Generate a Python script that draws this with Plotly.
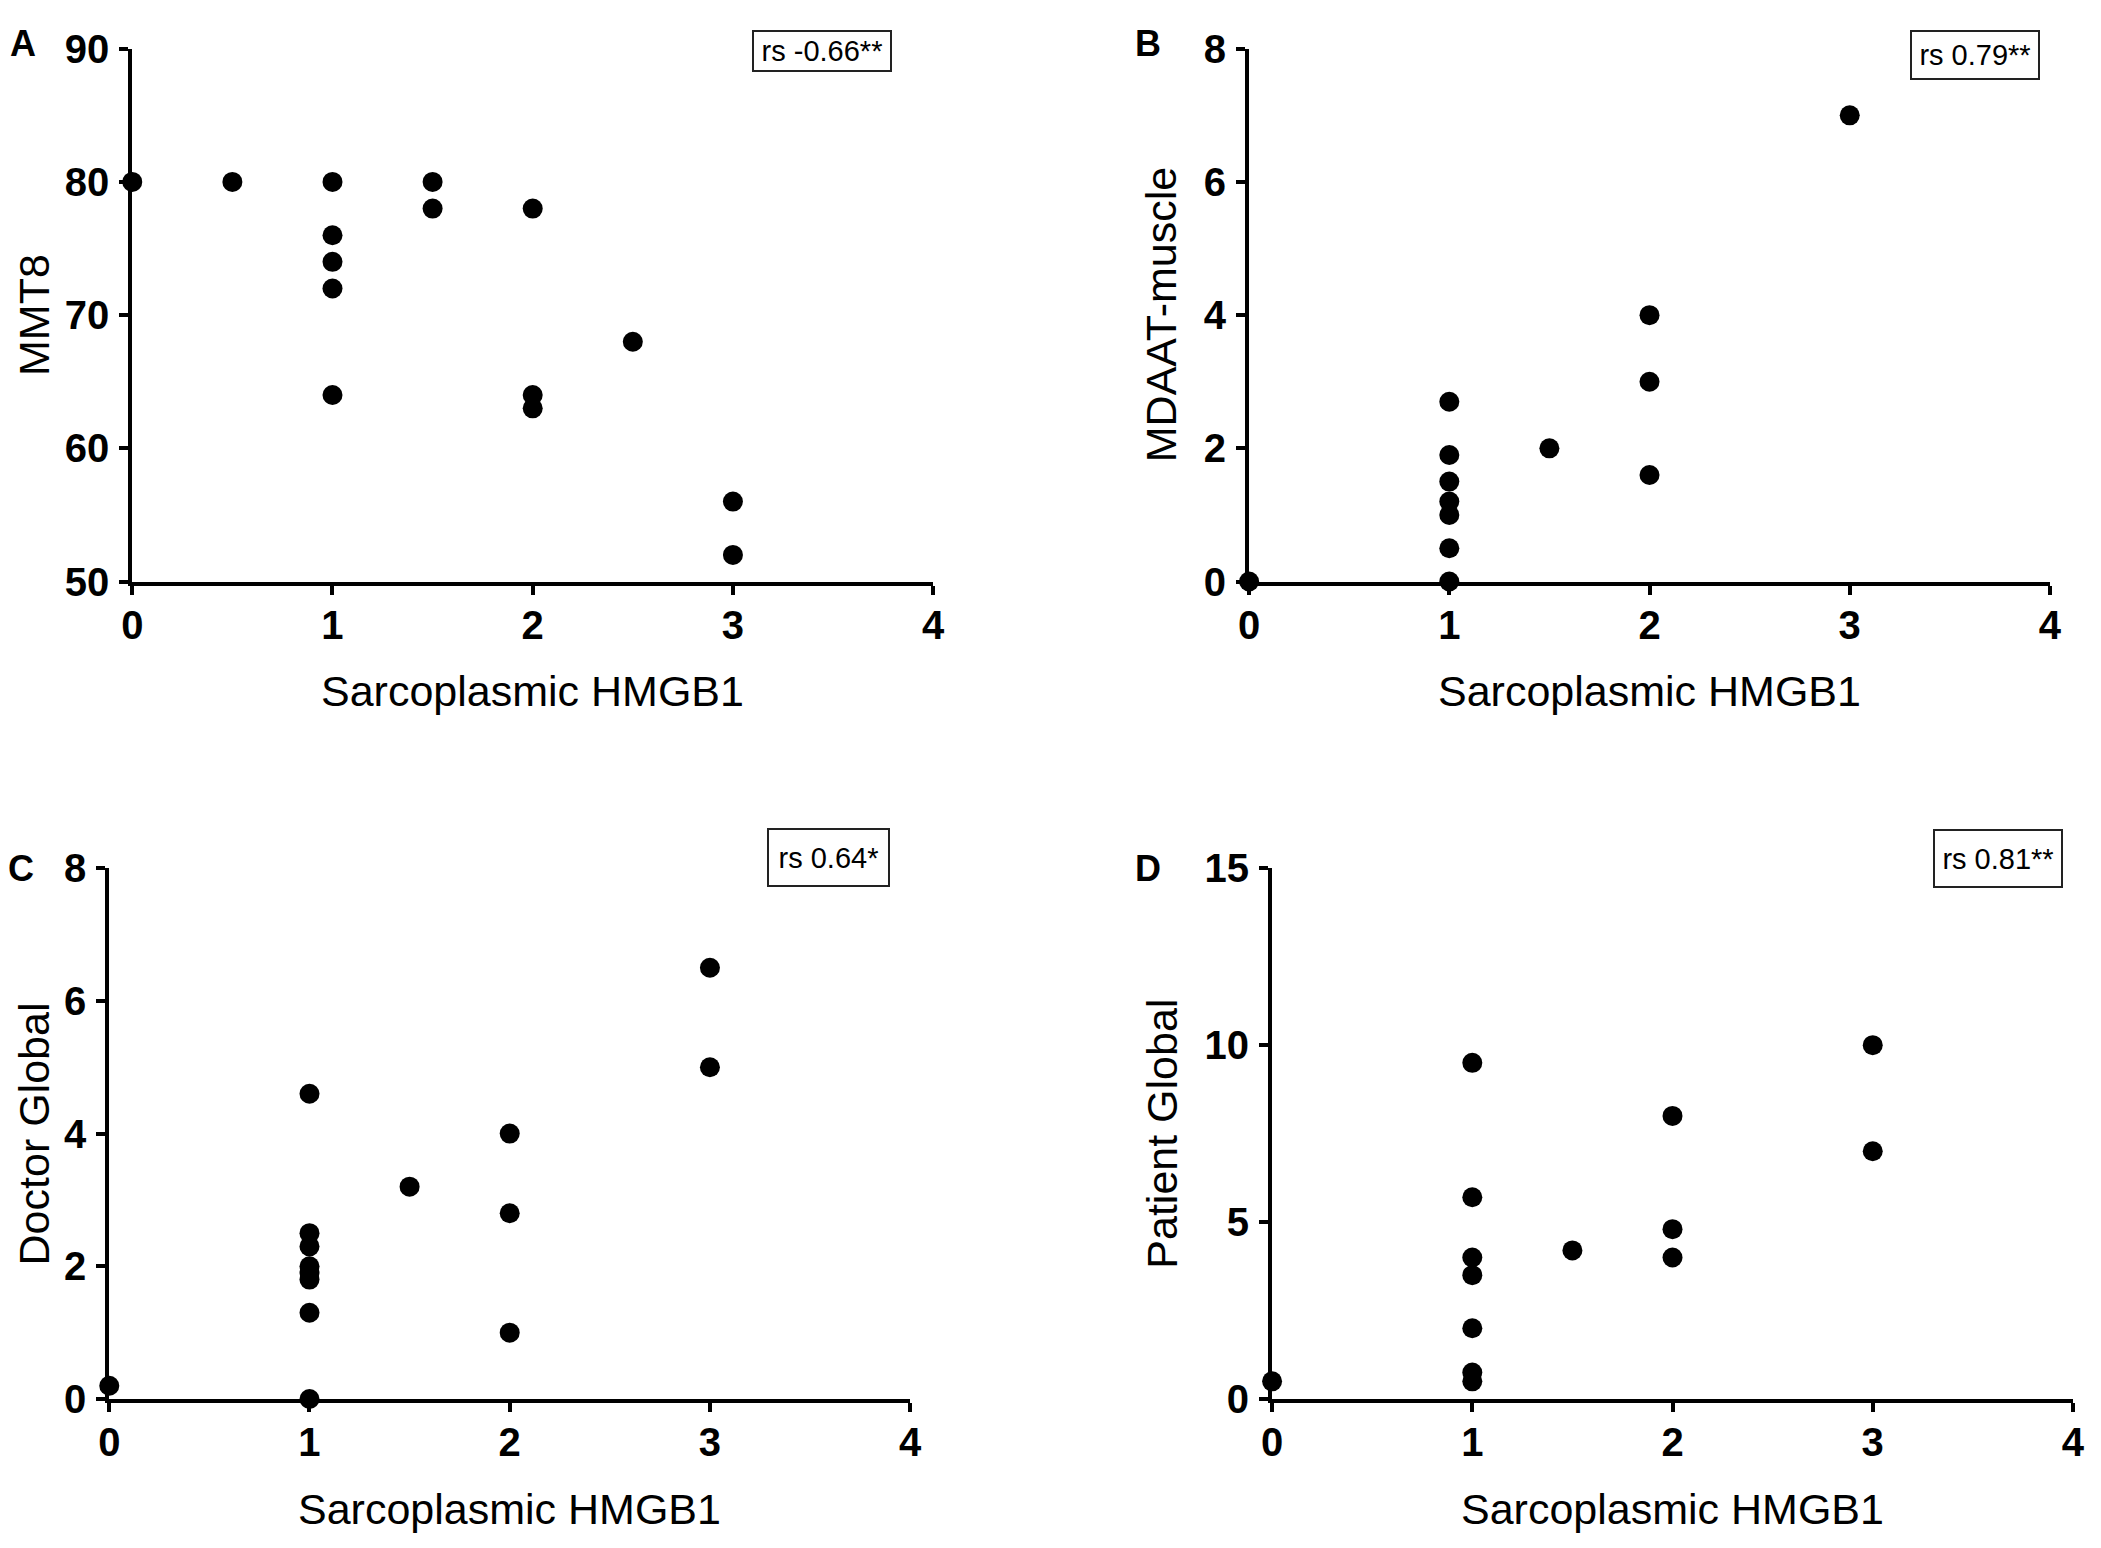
import plotly.graph_objects as go

W, H = 2101, 1548

# panel A: MMT8
a_x = [0, 0.5, 1, 1, 1, 1, 1, 1.5, 1.5, 2, 2, 2, 2.5, 3, 3]
a_y = [80, 80, 80, 76, 74, 72, 64, 80, 78, 78, 64, 63, 68, 56, 52]
# panel B: MDAAT-muscle
b_x = [0, 1, 1, 1, 1, 1, 1, 1, 1.5, 2, 2, 2, 3]
b_y = [0, 0, 0.5, 1, 1.2, 1.5, 1.9, 2.7, 2, 1.6, 3, 4, 7]
# panel C: Doctor Global
c_x = [0, 1, 1, 1, 1, 1, 1, 1, 1, 1.5, 2, 2, 2, 3, 3]
c_y = [0.2, 0, 1.3, 1.8, 1.9, 2.0, 2.3, 2.5, 4.6, 3.2, 1.0, 2.8, 4.0, 5.0, 6.5]
# panel D: Patient Global
d_x = [0, 1, 1, 1, 1, 1, 1, 1, 1.5, 2, 2, 2, 3, 3]
d_y = [0.5, 0.5, 0.75, 2, 3.5, 4, 5.7, 9.5, 4.2, 4, 4.8, 8, 7, 10]

x_ticks = [0, 1, 2, 3, 4]
x_title = "Sarcoplasmic HMGB1"

panels = [
    # letter, y title, rs text, x data, y data, y range, y ticks
    ("A", "MMT8", "rs -0.66**", a_x, a_y, [50, 90], [50, 60, 70, 80, 90]),
    ("B", "MDAAT-muscle", "rs 0.79**", b_x, b_y, [0, 8], [0, 2, 4, 6, 8]),
    ("C", "Doctor Global", "rs 0.64*", c_x, c_y, [0, 8], [0, 2, 4, 6, 8]),
    ("D", "Patient Global", "rs 0.81**", d_x, d_y, [0, 15], [0, 5, 10, 15]),
]

# layout in picture pixels: plot area x0, x1, y0(top), y1(bottom)
boxes = [(131, 932, 45, 584), (1248, 2049, 45, 584),
         (108, 909, 874, 1411), (1271, 2072, 874, 1411)]
ytitle_x = [22, 1160, 20, 1160]
letter_pos = [(22, 21), (1147, 21), (20, 874), (1147, 874)]
# rs box: centre x, width, top, bottom
rs_box = [(821, 140, 5, 68), (1974, 130, 13, 76), (827, 123, 834, 892), (1997, 130, 835, 893)]

# the photographed page sits a little inset, so map picture pixels to figure pixels
def fx(x):
    return x * 1.0109 - 17.9

def fy(y):
    return y * 1.0174 - 26.5

def px(x):
    return fx(x) / W

def py(y):
    return 1 - fy(y) / H

sans = "Liberation Sans, Arial, sans-serif"

fig = go.Figure()
layout = dict(width=W, height=H, margin=dict(l=0, r=0, t=0, b=0),
              plot_bgcolor="white", paper_bgcolor="white", showlegend=False)
annotations = []

for i, (letter, ytitle, rs, xs, ys, yr, yt) in enumerate(panels):
    n = "" if i == 0 else str(i + 1)
    x0, x1, y0, y1 = boxes[i]
    fig.add_trace(go.Scatter(x=xs, y=ys, mode="markers", xaxis="x" + n, yaxis="y" + n,
                             marker=dict(size=20, color="black"), cliponaxis=False))
    axis_common = dict(showline=True, linewidth=4, linecolor="black", ticks="outside",
                       ticklen=9, tickwidth=4, tickcolor="black", showgrid=False,
                       zeroline=False, fixedrange=True,
                       tickfont=dict(family=sans, size=40, color="black", weight="bold"))
    layout["xaxis" + n] = dict(axis_common, domain=[px(x0), px(x1)], range=[0, 4],
                               tickvals=x_ticks, anchor="y" + n, ticklabelstandoff=-4)
    layout["yaxis" + n] = dict(axis_common, domain=[py(y1), py(y0)], range=yr,
                               tickvals=yt, anchor="x" + n, ticklabelstandoff=2)
    # axis titles
    annotations.append(dict(text=x_title, x=px((x0 + x1) / 2), y=py(y1 + 111),
                            xref="paper", yref="paper", showarrow=False,
                            xanchor="center", yanchor="middle",
                            font=dict(family=sans, size=43, color="black")))
    annotations.append(dict(text=ytitle, x=max(fx(ytitle_x[i]), 15) / W, y=py((y0 + y1) / 2),
                            xref="paper", yref="paper", showarrow=False, textangle=-90,
                            xanchor="center", yanchor="middle",
                            font=dict(family=sans, size=43, color="black")))
    lx, ly = letter_pos[i]
    annotations.append(dict(text="<b>" + letter + "</b>", x=px(lx),
                            y=1 - max(fy(ly), 14) / H,
                            xref="paper", yref="paper", showarrow=False,
                            xanchor="center", yanchor="middle",
                            font=dict(family=sans, size=36, color="black")))
    bx, bw, bt, bb = rs_box[i]
    top, bot = max(fy(bt), 1), fy(bb)
    annotations.append(dict(text=rs, x=px(bx), y=1 - (top + bot) / 2 / H,
                            xref="paper", yref="paper",
                            showarrow=False, xanchor="center", yanchor="middle",
                            width=bw - 4, height=bot - top - 4, borderpad=0, borderwidth=2,
                            bordercolor="#222222", bgcolor="white",
                            font=dict(family=sans, size=29, color="black")))

layout["annotations"] = annotations
fig.update_layout(**layout)
fig.write_html("out.html")
